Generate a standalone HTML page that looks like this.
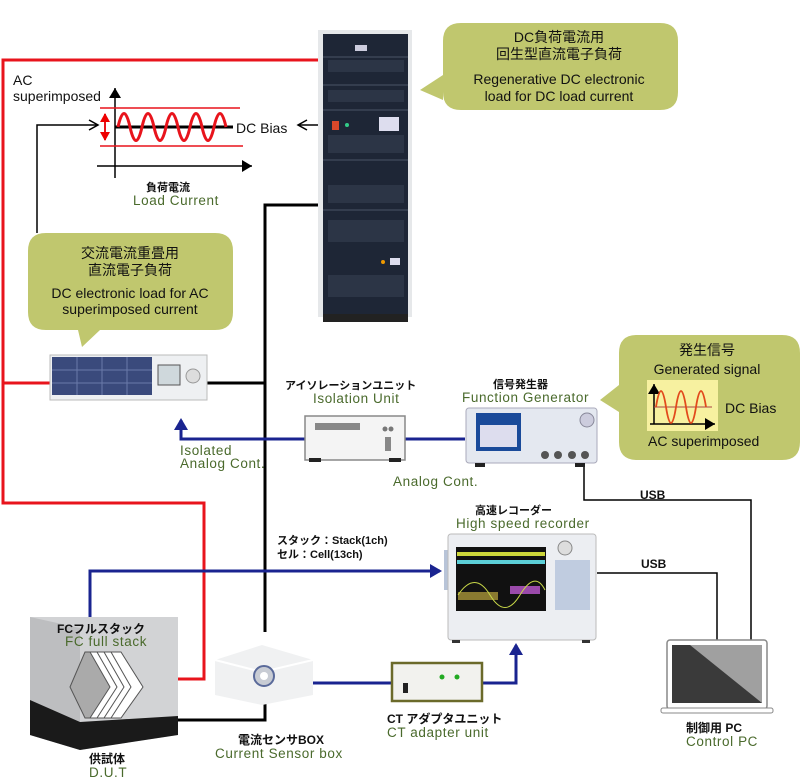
<!DOCTYPE html>
<html><head><meta charset="utf-8"><style>
html,body{margin:0;padding:0;background:#fff;width:800px;height:784px;overflow:hidden}
svg{display:block}
text{font-family:"Liberation Sans","Noto Sans CJK JP",sans-serif}
.j{font-weight:bold;font-size:11px;fill:#111}
.g{font-size:13.5px;fill:#4a6a2c;letter-spacing:0.6px}
.b{font-size:14px;fill:#111}
</style></head><body>
<svg width="800" height="784" viewBox="0 0 800 784" xmlns="http://www.w3.org/2000/svg">
<defs>
<marker id="ab" markerWidth="14" markerHeight="14" refX="10" refY="7" orient="auto" markerUnits="userSpaceOnUse"><path d="M0,0 L12,7 L0,14 z" fill="#1a2490"/></marker>
<marker id="ak" markerWidth="12" markerHeight="12" refX="10" refY="6" orient="auto" markerUnits="userSpaceOnUse"><path d="M0,0 L10,6 L0,12 z" fill="#000"/></marker>
<marker id="ao" markerWidth="12" markerHeight="12" refX="10" refY="6" orient="auto" markerUnits="userSpaceOnUse"><path d="M1,1 L10,6 L1,11" fill="none" stroke="#000" stroke-width="1.5"/></marker>
<marker id="ar" markerWidth="10" markerHeight="10" refX="8" refY="5" orient="auto" markerUnits="userSpaceOnUse"><path d="M0,0 L9,5 L0,10 z" fill="#e00"/></marker>
</defs>

<g stroke="#e8141c" stroke-width="3" fill="none">
<polyline points="318,60 3,60 3,503 204,503 204,679 178,679"/>
<line x1="3" y1="383" x2="50" y2="383"/>
</g>

<g stroke="#000" stroke-width="3" fill="none">
<polyline points="318,205 265,205 265,632"/>
<line x1="207" y1="383" x2="265" y2="383"/>
<polyline points="265,695 265,720 178,720"/>
</g>
<g stroke="#000" stroke-width="1.5" fill="none">
<polyline points="37,233 37,125 98,125" marker-end="url(#ao)"/>
<line x1="325" y1="125" x2="298" y2="125" marker-end="url(#ao)"/>
<polyline points="584,465 584,500 751,500 751,640"/>
<polyline points="597,573 717,573 717,640"/>
</g>

<g stroke="#1a2490" stroke-width="3" fill="none">
<polyline points="305,439 181,439 181,420" marker-end="url(#ab)"/>
<line x1="405" y1="439" x2="465" y2="439"/>
<polyline points="90,640 90,571 440,571" marker-end="url(#ab)"/>
<line x1="297" y1="683" x2="392" y2="683"/>
<polyline points="482,683 516,683 516,645" marker-end="url(#ab)"/>
</g>

<line x1="115" y1="178" x2="115" y2="88" stroke="#000" stroke-width="1.5" marker-end="url(#ak)"/>
<line x1="97" y1="166" x2="252" y2="166" stroke="#000" stroke-width="1.5" marker-end="url(#ak)"/>
<line x1="100" y1="108" x2="240" y2="108" stroke="#e8141c" stroke-width="1.5"/>
<line x1="100" y1="146" x2="243" y2="146" stroke="#e8141c" stroke-width="1.5"/>
<line x1="115" y1="127" x2="233" y2="127" stroke="#000" stroke-width="3"/>
<path d="M118,127 Q124,100 130,127 T142,127 T154,127 T166,127 T178,127 T190,127 T202,127 T214,127 T226,127" fill="none" stroke="#e8141c" stroke-width="3"/>
<line x1="105" y1="127" x2="105" y2="114" stroke="#e8141c" stroke-width="2" marker-end="url(#ar)"/>
<line x1="105" y1="127" x2="105" y2="140" stroke="#e8141c" stroke-width="2" marker-end="url(#ar)"/>
<text x="236" y="133" class="b">DC Bias</text>
<text x="13" y="85" class="b">AC</text>
<text x="13" y="101" class="b">superimposed</text>
<text x="146" y="191" class="j">負荷電流</text>
<text x="133" y="205" class="g">Load Current</text>

<rect x="318" y="30" width="94" height="287" fill="#e6e8ea"/>
<rect x="323" y="34" width="85" height="280" fill="#1e2636"/>
<g fill="#2c3546">
<rect x="328" y="60" width="76" height="12"/><rect x="328" y="90" width="76" height="12"/>
<rect x="328" y="135" width="76" height="18"/><rect x="328" y="185" width="76" height="18"/>
<rect x="328" y="220" width="76" height="22"/><rect x="328" y="275" width="76" height="22"/>
</g>
<g stroke="#4a5466" stroke-width="1"><line x1="323" y1="57" x2="408" y2="57"/><line x1="323" y1="85" x2="408" y2="85"/><line x1="323" y1="110" x2="408" y2="110"/><line x1="323" y1="160" x2="408" y2="160"/><line x1="323" y1="210" x2="408" y2="210"/></g>
<rect x="332" y="121" width="7" height="9" fill="#d8482a"/>
<circle cx="347" cy="125" r="2" fill="#3c8"/>
<rect x="379" y="117" width="20" height="14" fill="#dde"/>
<rect x="355" y="45" width="12" height="6" fill="#ccd"/>
<circle cx="383" cy="262" r="2" fill="#e90"/>
<rect x="390" y="258" width="10" height="7" fill="#dde"/>
<rect x="323" y="314" width="85" height="8" fill="#222"/>

<path d="M46,233 H215 Q233,233 233,251 V312 Q233,330 215,330 H100 L82,347 L78,330 H46 Q28,330 28,312 V251 Q28,233 46,233 Z" fill="#c0c76e"/>
<g class="b" text-anchor="middle">
<text x="130" y="258">交流電流重畳用</text>
<text x="130" y="275">直流電子負荷</text>
<text x="130" y="298">DC electronic load for AC</text>
<text x="130" y="314">superimposed current</text>
</g>

<path d="M461,23 H660 Q678,23 678,41 V92 Q678,110 660,110 H461 Q443,110 443,92 V100 L420,90 L443,75 V41 Q443,23 461,23 Z" fill="#c0c76e"/>
<g class="b" text-anchor="middle">
<text x="559" y="42">DC負荷電流用</text>
<text x="559" y="59">回生型直流電子負荷</text>
<text x="559" y="84">Regenerative DC electronic</text>
<text x="559" y="101">load for DC load current</text>
</g>

<path d="M637,335 H782 Q800,335 800,353 V442 Q800,460 782,460 H637 Q619,460 619,442 V412 L600,400 L619,385 V353 Q619,335 637,335 Z" fill="#c0c76e"/>
<text x="707" y="355" class="b" text-anchor="middle">発生信号</text>
<text x="707" y="374" class="b" text-anchor="middle">Generated signal</text>
<rect x="647" y="380" width="71" height="51" fill="#f7f1a0"/>
<line x1="654" y1="424" x2="654" y2="384" stroke="#000" stroke-width="1.5" marker-end="url(#ak)"/>
<line x1="650" y1="424" x2="715" y2="424" stroke="#000" stroke-width="1.5" marker-end="url(#ak)"/>
<line x1="654" y1="407" x2="712" y2="407" stroke="#a44" stroke-width="1"/>
<path d="M656,407 Q661,375 666,407 T676,407 T686,407 T696,407 T706,407" fill="none" stroke="#e24a1c" stroke-width="1.8"/>
<text x="725" y="413" class="b">DC Bias</text>
<text x="648" y="446" class="b">AC superimposed</text>

<rect x="50" y="355" width="157" height="45" fill="#eef0f2" stroke="#bbb"/>
<rect x="52" y="357" width="100" height="38" fill="#3a4a7c"/>
<g stroke="#6a7aaa" stroke-width="1"><line x1="77" y1="357" x2="77" y2="395"/><line x1="102" y1="357" x2="102" y2="395"/><line x1="127" y1="357" x2="127" y2="395"/><line x1="52" y1="370" x2="152" y2="370"/><line x1="52" y1="383" x2="152" y2="383"/></g>
<rect x="158" y="365" width="22" height="20" fill="#cfd8dc" stroke="#555"/>
<circle cx="193" cy="376" r="7" fill="#ddd" stroke="#999"/>

<text x="285" y="389" class="j">アイソレーションユニット</text>
<text x="313" y="403" class="g">Isolation Unit</text>
<rect x="305" y="416" width="100" height="44" fill="#f4f4f4" stroke="#888" stroke-width="1.5"/>
<rect x="315" y="423" width="45" height="7" fill="#888"/>
<circle cx="385" cy="429" r="2.5" fill="#777"/><circle cx="391" cy="429" r="2.5" fill="#777"/>
<rect x="385" y="437" width="6" height="14" fill="#888"/>
<rect x="309" y="458" width="12" height="4" fill="#222"/><rect x="389" y="458" width="12" height="4" fill="#222"/>
<text x="180" y="455" class="g">Isolated</text>
<text x="180" y="468" class="g">Analog Cont.</text>
<text x="393" y="486" class="g">Analog Cont.</text>

<text x="493" y="388" class="j">信号発生器</text>
<text x="462" y="402" class="g">Function Generator</text>
<rect x="466" y="408" width="131" height="55" fill="#e4e8f0" stroke="#aab" rx="3"/>
<rect x="476" y="413" width="45" height="38" fill="#1a4a9a"/>
<rect x="480" y="425" width="37" height="22" fill="#dde"/>
<circle cx="587" cy="420" r="7" fill="#ccd" stroke="#889"/>
<g fill="#555"><circle cx="545" cy="455" r="4"/><circle cx="558" cy="455" r="4"/><circle cx="572" cy="455" r="4"/><circle cx="585" cy="455" r="4"/></g>
<rect x="475" y="463" width="10" height="4" fill="#222"/><rect x="575" y="463" width="10" height="4" fill="#222"/>

<text x="640" y="499" style="font-size:12px;font-weight:bold" fill="#111">USB</text>
<text x="641" y="568" style="font-size:12px;font-weight:bold" fill="#111">USB</text>

<text x="475" y="514" class="j">高速レコーダー</text>
<text x="456" y="528" class="g">High speed recorder</text>
<rect x="444" y="550" width="4" height="40" fill="#b8c4d8"/>
<rect x="448" y="534" width="148" height="106" fill="#eceef2" stroke="#bbb" rx="3"/>
<rect x="456" y="547" width="90" height="64" fill="#111"/>
<rect x="457" y="552" width="88" height="4" fill="#cdd63a"/>
<rect x="457" y="560" width="88" height="4" fill="#5ccfd8"/>
<rect x="458" y="592" width="40" height="8" fill="#8a7a30"/>
<rect x="510" y="586" width="30" height="8" fill="#9a4aaa"/>
<path d="M458,595 Q475,570 490,595 T520,595 T545,590" fill="none" stroke="#c8d848" stroke-width="1"/>
<circle cx="565" cy="548" r="7" fill="#ddd" stroke="#888"/>
<rect x="555" y="560" width="35" height="50" fill="#c0cce0"/>
<rect x="452" y="640" width="8" height="3" fill="#333"/><rect x="582" y="640" width="8" height="3" fill="#333"/>

<text x="277" y="544" style="font-size:11px;font-weight:bold" fill="#111">スタック：Stack(1ch)</text>
<text x="277" y="558" style="font-size:11px;font-weight:bold" fill="#111">セル：Cell(13ch)</text>

<rect x="392" y="663" width="90" height="38" fill="#f2f2ee" stroke="#6b6a2a" stroke-width="2.5"/>
<circle cx="442" cy="677" r="2.5" fill="#2a2"/><circle cx="457" cy="677" r="2.5" fill="#2a2"/>
<rect x="403" y="683" width="5" height="10" fill="#222"/>
<text x="387" y="723" class="j" style="font-size:12px">CT  アダプタユニット</text>
<text x="387" y="737" class="g">CT adapter unit</text>

<path d="M215,660 L262,645 L313,660 L313,695 L262,705 L215,695 Z" fill="#f0f1f2"/>
<path d="M215,660 L262,672 L313,660" fill="none" stroke="#fff" stroke-width="2"/>
<circle cx="264" cy="676" r="10" fill="#c8ccd4" stroke="#5a6a9a" stroke-width="2"/>
<circle cx="264" cy="676" r="4" fill="#fff"/>
<text x="238" y="744" class="j" style="font-size:12px">電流センサBOX</text>
<text x="215" y="758" class="g">Current Sensor box</text>

<path d="M30,617 L178,617 L178,735 L80,750 L30,735 Z" fill="#d2d3d5"/>
<path d="M30,617 L80,628 L80,750 L30,735 Z" fill="#bdbec0"/>
<path d="M30,700 L80,722 L178,716 L178,735 L80,750 L30,735 Z" fill="#1a1a1a"/>
<g fill="#fff" stroke="#555" stroke-width="1">
<path d="M70,687 L85,652 L100,652 L112,687 L100,718 L85,718 Z" fill="#aaa"/>
<path d="M90,652 L100,652 L122,687 L100,718 L90,718 L110,687 Z"/>
<path d="M97,652 L107,652 L129,687 L107,718 L97,718 L117,687 Z"/>
<path d="M104,652 L114,652 L136,687 L114,718 L104,718 L124,687 Z"/>
<path d="M111,652 L121,652 L143,687 L121,718 L111,718 L131,687 Z"/>
</g>
<text x="57" y="633" class="j" style="font-size:12px">FCフルスタック</text>
<text x="65" y="646" class="g">FC full stack</text>
<text x="89" y="763" class="j" style="font-size:12px">供試体</text>
<text x="89" y="777" class="g">D.U.T</text>

<rect x="667" y="640" width="100" height="69" fill="#fff" stroke="#888" stroke-width="1.5" rx="3"/>
<rect x="672" y="645" width="90" height="58" fill="#a0a0a0"/>
<path d="M672,645 L690,645 L762,703 L672,703 Z" fill="#3a3a3a"/>
<rect x="661" y="708" width="112" height="5" fill="#fff" stroke="#888" rx="2"/>
<text x="686" y="732" class="j" style="font-size:12px">制御用 PC</text>
<text x="686" y="746" class="g">Control PC</text>
</svg>
</body></html>
